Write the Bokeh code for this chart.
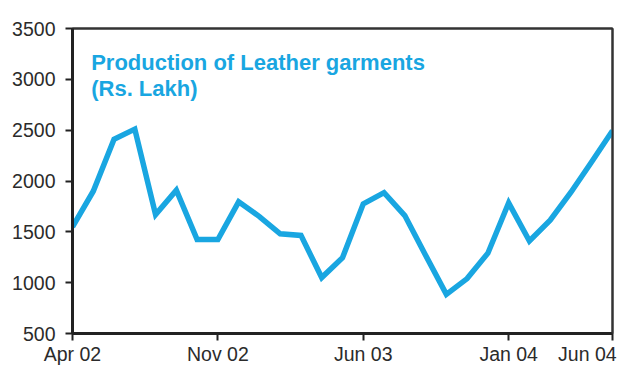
from bokeh.plotting import figure
from bokeh.models import FixedTicker, Range1d, Label, LinearAxis
from bokeh.embed import file_html
from bokeh.resources import INLINE

# Monthly index: 0 = Apr 02 ... 26 = Jun 04
months = ["Apr 02", "May 02", "Jun 02", "Jul 02", "Aug 02", "Sep 02", "Oct 02",
          "Nov 02", "Dec 02", "Jan 03", "Feb 03", "Mar 03", "Apr 03", "May 03",
          "Jun 03", "Jul 03", "Aug 03", "Sep 03", "Oct 03", "Nov 03", "Dec 03",
          "Jan 04", "Feb 04", "Mar 04", "Apr 04", "May 04", "Jun 04"]
production = [1550, 1900, 2410, 2510, 1670, 1910, 1425, 1425, 1795, 1650, 1480,
              1465, 1050, 1245, 1775, 1885, 1660, 1270, 885, 1040, 1290, 1785,
              1410, 1615, 1890, 2190, 2495]
tick_pos = [0, 7, 14, 21, 26]
tick_labels = ["Apr 02", "Nov 02", "Jun 03", "Jan 04", "Jun 04"]
y_ticks = [500, 1000, 1500, 2000, 2500, 3000, 3500]
title_lines = ["Production of Leather garments", "(Rs. Lakh)"]

BLUE = "#19a6e1"
TXT = "#2b2b2b"
AX = "#222222"
FONT = "Liberation Sans"
NBSP = "\u00a0"

x = list(range(len(months)))

p = figure(width=627, height=367, output_backend="svg", toolbar_location=None,
           x_range=Range1d(0, 26), y_range=Range1d(500, 3500),
           min_border_left=72, min_border_right=15, min_border_top=28,
           min_border_bottom=29)
p.background_fill_color = "white"
p.border_fill_color = "white"
p.outline_line_color = "#333333"
p.outline_line_width = 2
p.xgrid.visible = False
p.ygrid.visible = False

p.line(x, production, line_color=BLUE, line_width=5.5, line_join="miter")

# last label padded with no-break spaces so its visible text sits left of the tick
labels = {t: l for t, l in zip(tick_pos, tick_labels)}
labels[tick_pos[-1]] = tick_labels[-1] + NBSP * 2

xa = p.xaxis[0]
xa.ticker = FixedTicker(ticks=tick_pos)
xa.major_label_overrides = labels
xa.minor_tick_line_color = None
xa.major_tick_out = 7
xa.major_tick_in = 0
xa.major_tick_line_width = 2
xa.major_tick_line_color = AX
xa.axis_line_width = 3
xa.axis_line_color = AX
xa.major_label_text_font = FONT
xa.major_label_text_font_size = "19.5px"
xa.major_label_text_color = TXT
xa.major_label_standoff = 2

ya = p.yaxis[0]
ya.ticker = FixedTicker(ticks=y_ticks)
ya.minor_tick_line_color = None
ya.major_tick_out = 7
ya.major_tick_in = 0
ya.major_tick_line_width = 2
ya.major_tick_line_color = AX
ya.axis_line_width = 3
ya.axis_line_color = AX
ya.major_label_text_font = FONT
ya.major_label_text_font_size = "19.5px"
ya.major_label_text_color = TXT
ya.major_label_standoff = 10

# plain frame lines on top and right
for side in ("above", "right"):
    ax = LinearAxis(ticker=FixedTicker(ticks=[]), major_tick_out=0, major_tick_in=0,
                    minor_tick_out=0, minor_tick_in=0,
                    major_label_text_font_size="0px", major_label_standoff=0,
                    axis_line_color="#333333", axis_line_width=2)
    p.add_layout(ax, side)

# Title inside the plot
for i, line in enumerate(title_lines):
    p.add_layout(Label(x=0.9, y=3170 - i * 260, text=line,
                       text_font=FONT, text_font_style="bold",
                       text_font_size="22px", text_color=BLUE,
                       text_baseline="alphabetic"))

open("out.html", "w").write(file_html(p, INLINE))
